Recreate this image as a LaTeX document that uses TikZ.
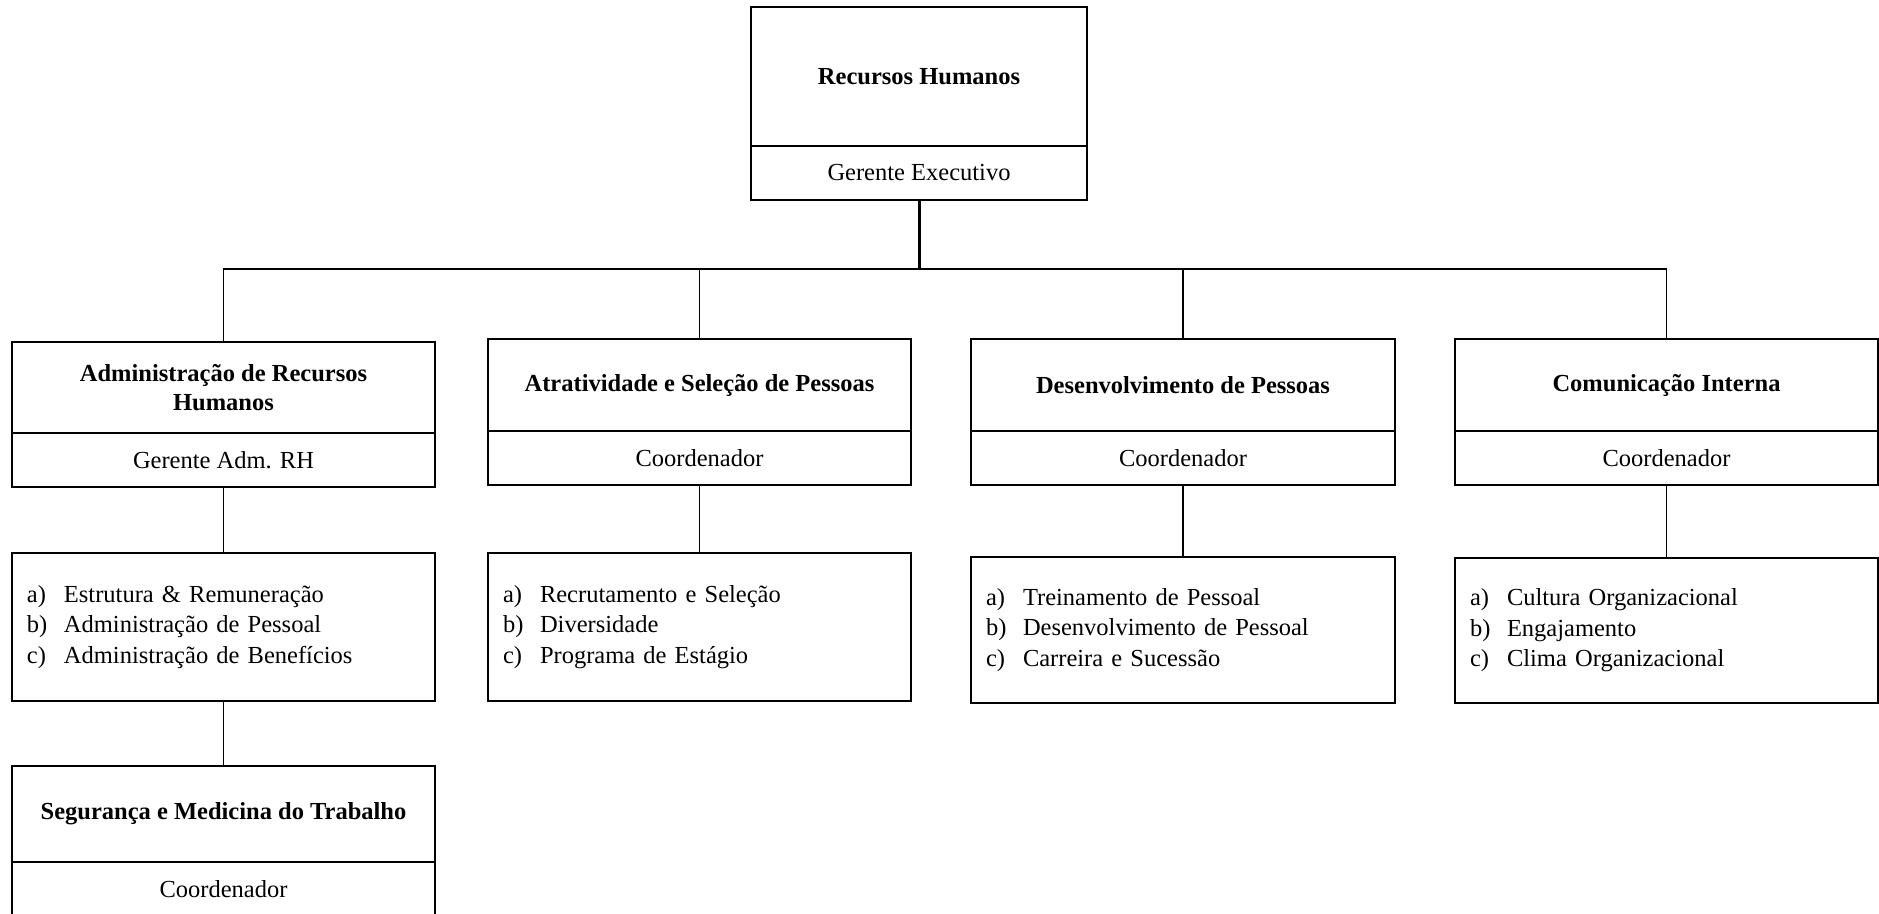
\documentclass[tikz,border=0pt]{standalone}
\usepackage{fontspec}
\setmainfont{Liberation Serif}
\newcommand\itm[1]{\makebox[37pt][l]{#1}}
\tikzset{
  box/.style={draw=black, line width=1.8pt, rectangle, inner sep=0pt,
    font=\fontsize{24.5}{29}\selectfont},
  head/.style={box, minimum width=423pt, minimum height=92pt, align=center,
    font=\bfseries\fontsize{24.5}{29}\selectfont},
  role/.style={box, minimum width=423pt, minimum height=54pt},
  tasks/.style={box, minimum width=423pt, minimum height=148pt, align=left,
    text width=393pt, inner xsep=15pt, font=\fontsize{24.5}{30.5}\selectfont},
  link/.style={line width=1.8pt, draw=black},
}
\begin{document}
\begin{tikzpicture}[x=1pt, y=-1pt]
\useasboundingbox (0,0) rectangle (1879,913);
\fill[white] (0,0) rectangle (1879,913);
\clip (0,0) rectangle (1879,913);

% top unit
\node[head, minimum width=336pt, minimum height=139pt] (rh) at (919,76.5) {Recursos Humanos};
\node[role, minimum width=336pt] (rhrole) at (919,173) {Gerente Executivo};

% second level
\node[head, minimum height=91pt] (h1) at (223.5,387.5) {Administração de Recursos\\Humanos};
\node[role] (r1) at (223.5,460) {Gerente Adm. RH};
\node[head] (h2) at (699.5,385) {Atratividade e Seleção de Pessoas};
\node[role] (r2) at (699.5,458) {Coordenador};
\node[head, minimum width=424pt] (h3) at (1183,385) {Desenvolvimento de Pessoas};
\node[role, minimum width=424pt] (r3) at (1183,458) {Coordenador};
\node[head] (h4) at (1666.5,385) {Comunicação Interna};
\node[role] (r4) at (1666.5,458) {Coordenador};

% task lists
\node[tasks] (l1) at (223.5,627) {\itm{a)}Estrutura \& Remuneração\\\itm{b)}Administração de Pessoal\\\itm{c)}Administração de Benefícios};
\node[tasks] (l2) at (699.5,627) {\itm{a)}Recrutamento e Seleção\\\itm{b)}Diversidade\\\itm{c)}Programa de Estágio};
\node[tasks, minimum width=424pt, text width=394pt, minimum height=146pt] (l3) at (1183,630) {\itm{a)}Treinamento de Pessoal\\\itm{b)}Desenvolvimento de Pessoal\\\itm{c)}Carreira e Sucessão};
\node[tasks, minimum height=145pt] (l4) at (1666.5,630.5) {\itm{a)}Cultura Organizacional\\\itm{b)}Engajamento\\\itm{c)}Clima Organizacional};

% safety unit
\node[head, minimum height=96pt] (h5) at (223.5,814) {Segurança e Medicina do Trabalho};
\node[role] (r5) at (223.5,889) {Coordenador};

% connectors
\coordinate (bus) at (0,269);
\draw[link, line width=3pt] (rhrole.south) -- (rhrole.south |- bus);
\foreach \n in {h1,h2,h3,h4}
  \draw[link] (\n.north) -- (\n.north |- bus) -| (rhrole.south);
\draw[link] (r1.south) -- (l1.north);
\draw[link] (r2.south) -- (l2.north);
\draw[link] (r3.south) -- (l3.north);
\draw[link] (r4.south) -- (l4.north);
\draw[link] (l1.south) -- (h5.north);
\end{tikzpicture}
\end{document}
